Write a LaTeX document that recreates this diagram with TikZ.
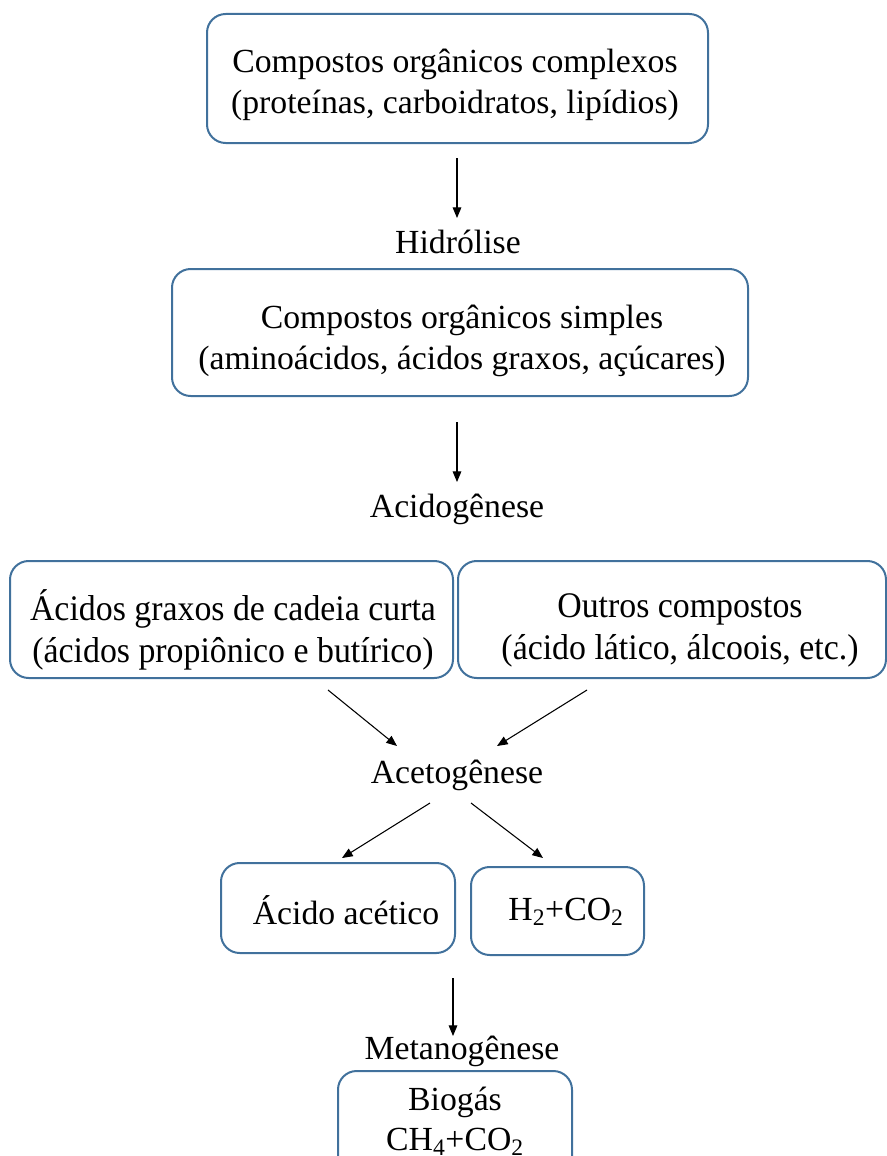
\documentclass[tikz,border=0pt]{standalone}
\usepackage{fontspec}
\setmainfont{Liberation Serif}
\usetikzlibrary{arrows.meta}
\definecolor{boxblue}{RGB}{65,113,156}
\tikzset{
  stage/.style={draw=boxblue, line width=1.5pt, rounded corners=14pt, inner sep=0pt},
  txt/.style={inner sep=0pt, align=center, font=\fontsize{25.3}{30.75}\selectfont},
  sqz/.style={inner sep=0pt, align=center, font=\fontsize{27}{31.5}\selectfont},
  lbl/.style={inner sep=0pt, font=\fontsize{25.3}{30}\selectfont},
  arr/.style={line width=0.8pt, -{Triangle[length=8pt,width=6.5pt]}}
}
\newcommand{\sq}[1]{\scalebox{0.94}[1]{#1}}
\begin{document}
\begin{tikzpicture}[x=0.75pt,y=-0.75pt]
\useasboundingbox (0,0) rectangle (886,1156);
% boxes
\node[stage, minimum width=375.75pt, minimum height=96.75pt] (b1) at (457.5,78.5) {};
\node[txt] (b1t) at (455,85) {Compostos orgânicos complexos\\(proteínas, carboidratos, lipídios)};
\node[stage, minimum width=432pt, minimum height=95.25pt] (b2) at (460,332.5) {};
\node[txt] (b2t) at (462,341) {Compostos orgânicos simples\\(aminoácidos, ácidos graxos, açúcares)};
\node[stage, minimum width=332.25pt, minimum height=87.75pt] (b3) at (231.5,619.5) {};
\node[sqz] (b3t) at (233,630) {\sq{Ácidos graxos de cadeia curta}\\\sq{(ácidos propiônico e butírico)}};
\node[stage, minimum width=321pt, minimum height=87.75pt] (b4) at (672,619.5) {};
\node[sqz] (b4t) at (680,630) {\sq{Outros compostos}\\\sq{(ácido lático, álcoois, etc.)}};
\node[stage, minimum width=175.5pt, minimum height=67.5pt] (b5) at (338,908) {};
\node[lbl] (b5t) at (346,910) {Ácido acético};
\node[stage, minimum width=129.75pt, minimum height=66pt] (b6) at (557.5,911) {};
\node[lbl] (b6t) at (566,912) {H\textsubscript{2}+CO\textsubscript{2}};
\node[stage, minimum width=175.5pt, minimum height=90pt] (b7) at (455,1131) {};
\node[lbl] (bio1) at (455,1102) {Biogás};
\node[lbl] (bio2) at (455,1142) {CH\textsubscript{4}+CO\textsubscript{2}};
% labels
\node[lbl] (hid) at (458,242) {Hidrólise};
\node[lbl] (aci) at (457,509) {Acidogênese};
\node[lbl] (ace) at (457,775) {Acetogênese};
\node[lbl] (met) at (462,1051) {Metanogênese};
% arrow anchors
\coordinate (a1s) at (457,158); \coordinate (a1e) at (457,218);
\coordinate (a2s) at (457,422); \coordinate (a2e) at (457,482);
\coordinate (a3s) at (328,690); \coordinate (a3e) at (397,746);
\coordinate (a4s) at (587,690); \coordinate (a4e) at (497,746);
\coordinate (a5s) at (430,803); \coordinate (a5e) at (342,858);
\coordinate (a6s) at (471,803); \coordinate (a6e) at (543,858);
\coordinate (a7s) at (453,978); \coordinate (a7e) at (453,1036);
\draw[arr] (a1s) -- (a1e);
\draw[arr] (a2s) -- (a2e);
\draw[arr] (a3s) -- (a3e);
\draw[arr] (a4s) -- (a4e);
\draw[arr] (a5s) -- (a5e);
\draw[arr] (a6s) -- (a6e);
\draw[arr] (a7s) -- (a7e);
\end{tikzpicture}
\end{document}
